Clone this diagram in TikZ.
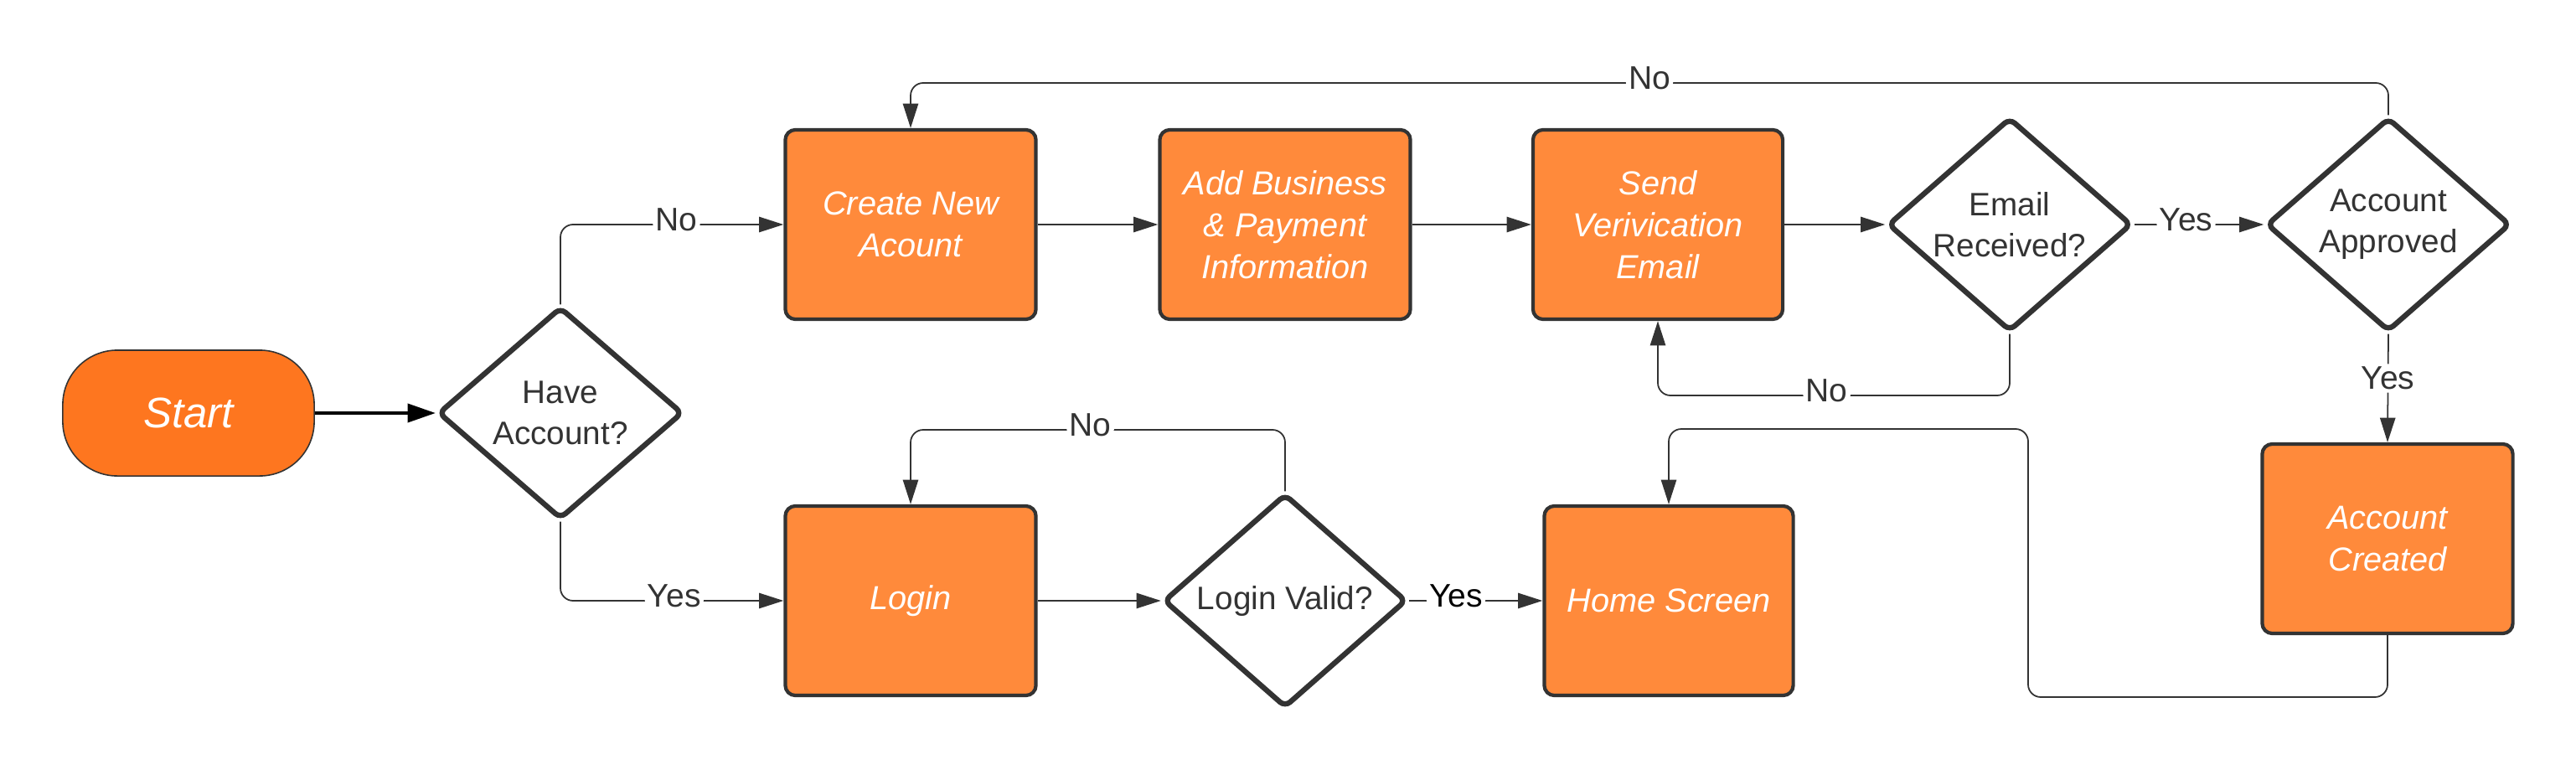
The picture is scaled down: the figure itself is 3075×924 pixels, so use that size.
\documentclass[tikz,border=0pt]{standalone}
\usepackage{fontspec}
\setmainfont{Liberation Sans}
\usetikzlibrary{arrows.meta,shapes.geometric}
\definecolor{startorange}{HTML}{FE761F}
\definecolor{steporange}{HTML}{FF8A3B}
\definecolor{ink}{HTML}{333333}
\tikzset{
  flow/.style={-{Triangle[length=8.3pt,width=5.2pt]},draw=ink,line width=.5pt,rounded corners=.15cm},
  startflow/.style={-{Triangle[length=9.4pt,width=6.3pt]},draw=black,line width=.9pt},
  box/.style={rectangle,rounded corners=.12cm,draw=ink,line width=1.2pt,fill=steporange,
    text=white,align=center,font=\fontsize{11.3}{14.2}\selectfont\itshape,
    minimum width=2.99cm,minimum height=2.26cm,inner sep=2pt},
  terminal/.style={rectangle,rounded corners=.65cm,draw=ink,line width=.45pt,fill=startorange,
    text=white,font=\fontsize{14.5}{17}\selectfont\itshape,
    minimum width=3cm,minimum height=1.5cm},
  decision/.style={diamond,rounded corners=.08cm,draw=ink,line width=1.8pt,fill=white,
    inner sep=0pt,minimum width=2.91cm,minimum height=2.55cm},
  qtext/.style={text=ink,align=center,font=\fontsize{11}{14}\selectfont},
  lbl/.style={fill=white,text=ink,inner sep=1pt,yshift=1.5pt,font=\fontsize{11.1}{13}\selectfont},
}
\begin{document}
\begin{tikzpicture}[x=.01cm,y=-.01cm]
\useasboundingbox (0,0) rectangle (3075,924);
% left part
\node[terminal] (start) at (225,493) {Start};
\node[decision,minimum width=2.92cm,minimum height=2.53cm,label={[qtext]center:Have\\Account?}] (have) at (669,493) {};
% top row
\node[box] (create) at (1087,268) {Create New\\Acount};
\node[box] (business) at (1534,268) {Add Business\\\& Payment\\Information};
\node[box,minimum width=2.98cm] (send) at (1979,268) {Send\\Verivication\\Email};
\node[decision,label={[qtext]center:Email\\Received?}] (received) at (2399,268) {};
\node[decision,label={[qtext]center:Account\\Approved}] (approved) at (2851,268) {};
\node[box] (created) at (2850,643) {Account\\Created};
% bottom row
\node[box] (login) at (1087,717) {Login};
\node[decision,minimum width=2.9cm,label={[qtext]center:Login Valid?}] (valid) at (1534,717) {};
\node[box,minimum width=2.97cm] (home) at (1992,717) {Home Screen};
% connectors
\draw[startflow] (start) -- (have);
\draw[flow] (have.north) |- node[lbl,pos=.76] {No} (create.west);
\draw[flow] (have.south) |- node[lbl,pos=.755] {Yes} (login.west);
\draw[flow] (create) -- (business);
\draw[flow] (business) -- (send);
\draw[flow] (send) -- (received.west);
\draw[flow] (received.east) -- node[lbl,pos=.4] {Yes} (approved.west);
\draw[flow] (approved.north) -- (approved.north |- 0,99) -| node[lbl,pos=.25] {No} (create.north);
\draw[flow] (received.south) -- (received.south |- 0,472) -| node[lbl,pos=.26] {No} (send.south);
\draw[flow] (approved.south) -- node[lbl,pos=.45] {Yes} (created.north);
\draw[flow] (created.south) -- (created.south |- 0,832) -- (2421,832) -- (2421,512) -| (home.north);
\draw[flow] (login) -- (valid.west);
\draw[flow] (valid.east) -- node[lbl,pos=.35,text=black] {Yes} (home.west);
\draw[flow] (valid.north) -- (valid.north |- 0,513) -| node[lbl,pos=.26] {No} (login.north);
\end{tikzpicture}
\end{document}
